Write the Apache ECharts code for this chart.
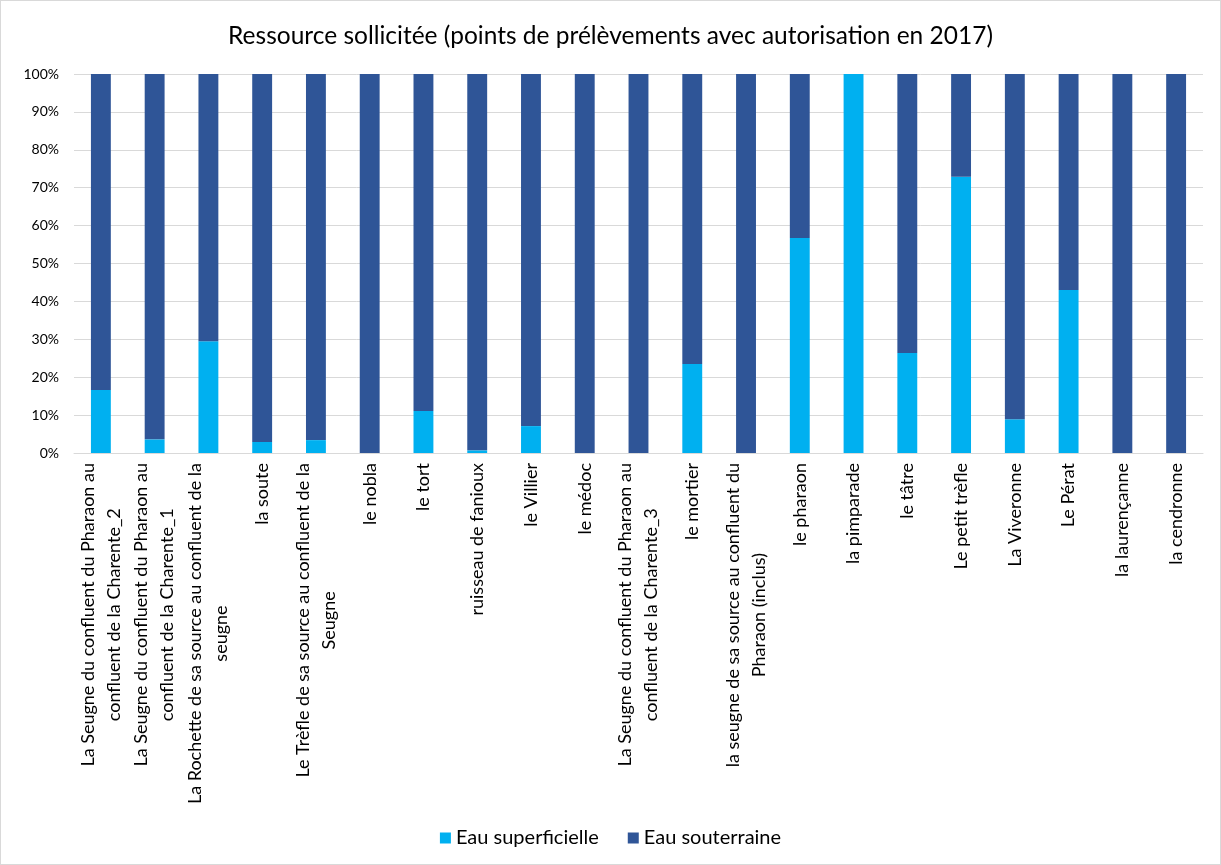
<!DOCTYPE html>
<html>
<head>
<meta charset="utf-8">
<script src="https://cdn.jsdelivr.net/npm/echarts@6/dist/echarts.min.js"></script>
<style>
html,body{margin:0;padding:0;background:#fff;}
#c{width:1219px;height:863px;border:1px solid #D9D9D9;}
</style>
</head>
<body>
<div id="c"></div>
<script>
const categories = [
  "La Seugne du confluent du Pharaon au\nconfluent de la Charente_2",
  "La Seugne du confluent du Pharaon au\nconfluent de la Charente_1",
  "La Rochette de sa source au confluent de la\nseugne",
  "la soute",
  "Le Trèfle de sa source au confluent de la\nSeugne",
  "le nobla",
  "le tort",
  "ruisseau de fanioux",
  "le Villier",
  "le médoc",
  "La Seugne du confluent du Pharaon au\nconfluent de la Charente_3",
  "le mortier",
  "la seugne de sa source au confluent du\nPharaon (inclus)",
  "le pharaon",
  "la pimparade",
  "le tâtre",
  "Le petit trèfle",
  "La Viveronne",
  "Le Pérat",
  "la laurençanne",
  "la cendronne"
];
const eauSuperficielle = [16.6, 3.6, 29.5, 2.9, 3.4, 0, 11.1, 0.7, 7.1, 0, 0, 23.5, 0, 56.7, 100, 26.4, 72.9, 8.9, 43.0, 0, 0];
const eauSouterraine   = [83.4, 96.4, 70.5, 97.1, 96.6, 100, 88.9, 99.3, 92.9, 100, 100, 76.5, 100, 43.3, 0, 73.6, 27.1, 91.1, 57.0, 100, 100];
const yTicks = [0, 10, 20, 30, 40, 50, 60, 70, 80, 90, 100];

const FONT = "Lato, 'Open Sans', sans-serif";
const CAT_SIZE = 18;

// centre the wrapped lines of each category label on each other
const ctx = document.createElement('canvas').getContext('2d');
ctx.font = CAT_SIZE + 'px Lato';
const rich = {};
const labelText = {};
categories.forEach((cat, i) => {
  const lines = cat.split('\n');
  const widths = lines.map(l => ctx.measureText(l).width);
  const maxW = Math.max.apply(null, widths);
  labelText[cat] = lines.map((l, j) => {
    const name = 'l' + i + '_' + j;
    rich[name] = {fontFamily: FONT, fontSize: CAT_SIZE, color: '#000', lineHeight: 26,
                  padding: [0, (maxW - widths[j]) / 2, 0, 0]};
    return '{' + name + '|' + l + '}';
  }).join('\n');
});

const chart = echarts.init(document.getElementById('c'));
chart.setOption({
  animation: false,
  title: {
    text: "Ressource sollicitée (points de prélèvements avec autorisation en 2017)",
    left: 'center', top: 18,
    textStyle: {fontFamily: FONT, fontSize: 24.5, fontWeight: 'normal', color: '#000'}
  },
  legend: {
    top: 822, left: 'center', itemWidth: 11, itemHeight: 11, itemGap: 29,
    icon: 'rect',
    textStyle: {fontFamily: FONT, fontSize: 20, color: '#000'},
    data: ['Eau superficielle', 'Eau souterraine']
  },
  grid: {left: 73, right: 17, top: 73, bottom: 411, containLabel: false},
  xAxis: {
    type: 'category', data: categories,
    axisLine: {lineStyle: {color: '#D9D9D9'}},
    axisTick: {show: false},
    axisLabel: {
      interval: 0, rotate: 90, margin: 10,
      formatter: v => labelText[v],
      rich: rich
    }
  },
  yAxis: {
    type: 'value', min: yTicks[0], max: yTicks[yTicks.length - 1], interval: 10,
    axisLine: {show: false}, axisTick: {show: false},
    splitLine: {lineStyle: {color: '#D9D9D9'}},
    axisLabel: {formatter: '{value}%', fontFamily: FONT, fontSize: 14, color: '#000', margin: 15}
  },
  series: [
    {name: 'Eau superficielle', type: 'bar', stack: 'a', data: eauSuperficielle,
     barWidth: '37%', itemStyle: {color: '#00B0F0'}},
    {name: 'Eau souterraine', type: 'bar', stack: 'a', data: eauSouterraine,
     barWidth: '37%', itemStyle: {color: '#2F5597'}}
  ]
});
</script>
</body>
</html>
